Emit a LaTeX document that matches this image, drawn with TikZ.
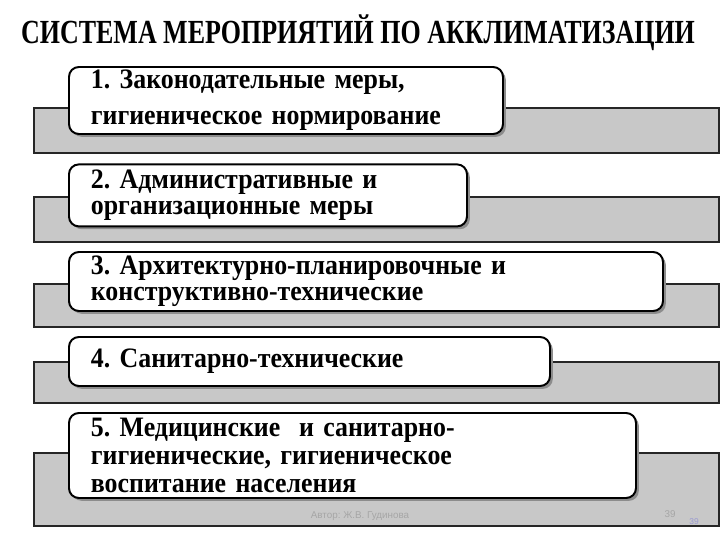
\documentclass[tikz,border=0pt]{standalone}
\usepackage{fontspec}
\setmainfont{Liberation Serif}
\newfontfamily\bodyfont[FakeStretch=0.92]{Liberation Serif}
\newfontfamily\titlefont[FakeStretch=0.77]{Liberation Serif}
\newfontfamily\footfont{Liberation Sans}
\usepackage{xcolor}
\usetikzlibrary{positioning, shadows}

\definecolor{barfill}{RGB}{200,200,200}
\frenchspacing

\begin{document}
\begin{tikzpicture}[
  y=-1cm,
  font=\bodyfont\bfseries\fontsize{20}{18.5}\selectfont,
  measure/.style={draw=black, line width=1.4pt, rounded corners=7pt,
    fill=white, anchor=west, inner xsep=15.6pt, inner ysep=2pt,
    align=left, minimum height=#1,
    drop shadow={shadow xshift=2pt, shadow yshift=-2pt, fill=black!45, opacity=1}},
  bar/.style={draw=black!85, line width=1.3pt, fill=barfill},
  foot/.style={font=\footfont\fontsize{7}{8}\selectfont, text=black!35},
]
  \useasboundingbox (0,0) rectangle (18,13.5);

  % Title
  \node (title) at (8.95,0.83)
    {\titlefont\bfseries\fontsize{24}{26}\selectfont СИСТЕМА МЕРОПРИЯТИЙ ПО АККЛИМАТИЗАЦИИ};

  % Gray bars behind the boxes
  \foreach \top/\bot in {2.7/3.825, 4.925/6.05, 7.1/8.175, 9.05/10.075, 11.325/13.15}
    \draw[bar] (0.85,\top) rectangle (17.975,\bot);

  % Boxes, one per group of measures
  \node[measure=1.675cm, text width=10.85cm-31.2pt] (law) at (1.7,2.5125)
    {1. Законодательные меры,\\[7pt] гигиеническое нормирование};
  \node[measure=1.55cm, text width=9.95cm-31.2pt] (admin) at (1.7,4.885)
    {2. Административные и\\ организационные меры};
  \node[measure=1.475cm, text width=14.85cm-31.2pt] (arch) at (1.7,7.0375)
    {3. Архитектурно-планировочные и\\ конструктивно-технические};
  \node[measure=1.225cm, text width=12.025cm-31.2pt] (sanit) at (1.7,9.0375)
    {4. Санитарно-технические};
  \node[measure=2.125cm, text width=14.175cm-31.2pt] (med) at (1.7,11.3875)
    {5. Медицинские\ \ и санитарно-\\[1.5pt] гигиенические, гигиеническое\\[1.5pt] воспитание населения};

  % Footer
  \node[foot] (author) at (9,12.9) {Автор: Ж.В. Гудинова};
  \node[foot] (page) at (16.75,12.85) {39};
  \node[foot, font=\footfont\fontsize{6}{7}\selectfont, text=black!45!blue!40] (pagenum) at (17.35,13.03) {39};
\end{tikzpicture}
\end{document}
